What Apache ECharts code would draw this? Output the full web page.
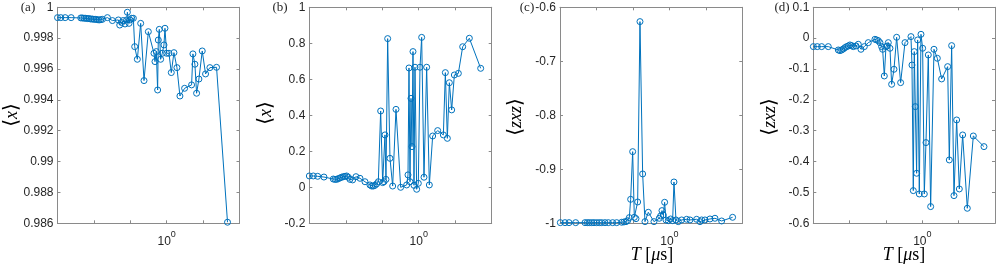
<!DOCTYPE html>
<html><head><meta charset="utf-8">
<script src="https://cdn.jsdelivr.net/npm/echarts@6/dist/echarts.min.js"></script>
<style>html,body{margin:0;padding:0;background:#fff}#c{width:997px;height:268px}</style>
</head><body><div id="c"></div>
<script>
// Panel (a): <x>
const T_A = [0.126,0.134,0.1456,0.1631,0.196,0.202,0.2087,0.2153,0.2222,0.2293,0.2366,0.2443,0.2521,0.2602,0.2685,0.2772,0.286,0.2953,0.3246,0.3568,0.3996,0.4101,0.4258,0.4367,0.4535,0.4681,0.4741,0.4893,0.4986,0.5146,0.5311,0.5448,0.5728,0.6103,0.65,0.7057,0.7855,0.8006,0.8209,0.8418,0.8525,0.8688,0.8913,0.9199,0.9493,0.9674,0.9985,1.0437,1.0909,1.1474,1.2145,1.2855,1.4046,1.6037,1.6444,1.7078,1.7631,1.8427,1.9628,2.0905,2.2698,2.575,3.171];
const X_A = [0.99933,0.99933,0.99933,0.99933,0.99931,0.99931,0.99929,0.99929,0.99927,0.99927,0.99924,0.99924,0.99922,0.99922,0.9992,0.99918,0.9992,0.99922,0.99933,0.99914,0.99918,0.99885,0.99901,0.99914,0.99892,0.99918,0.99968,0.99896,0.99918,0.99929,0.99929,0.99745,0.99663,0.99896,0.99525,0.99842,0.99702,0.99648,0.99713,0.99464,0.99788,0.99857,0.99663,0.99702,0.99756,0.99864,0.99702,0.99702,0.99577,0.99706,0.99609,0.99425,0.99475,0.99497,0.99698,0.99631,0.99443,0.99535,0.99717,0.99568,0.99609,0.99611,0.98607];
// Panel (b): <x>
const T_B = [0.126,0.1358,0.1474,0.1662,0.1983,0.2047,0.2113,0.2181,0.2251,0.2323,0.2397,0.2474,0.2553,0.2635,0.2719,0.286,0.3047,0.3287,0.3613,0.3972,0.4101,0.4231,0.4367,0.4506,0.4652,0.4862,0.5049,0.5178,0.5277,0.5378,0.5552,0.5801,0.6103,0.65,0.7102,0.7955,0.8159,0.8314,0.8473,0.8635,0.88,0.8968,0.9141,0.9316,0.9614,0.9922,1.024,1.0568,1.1046,1.1619,1.2222,1.3018,1.4311,1.5937,1.6552,1.719,1.7853,1.8655,1.9628,2.1171,2.2977,2.6077,3.2314];
const X_B = [0.063,0.063,0.061,0.057,0.046,0.044,0.044,0.048,0.052,0.056,0.059,0.061,0.063,0.056,0.044,0.041,0.059,0.05,0.031,0.013,0.007,0.007,0.011,0.019,0.031,0.424,0.026,0.031,0.291,0.044,0.826,0.161,0.007,0.433,0.0,0.013,0.069,0.663,0.031,0.494,0.226,0.754,0.011,0.667,-0.011,0.022,0.667,0.833,0.056,0.667,0.013,0.285,0.315,0.291,0.637,0.272,0.581,0.43,0.624,0.633,0.781,0.828,0.661];
// Panel (c): <zxz>
const T_C = [0.1267,0.1384,0.1493,0.1694,0.2021,0.2113,0.2194,0.2293,0.2397,0.2521,0.2651,0.2772,0.2953,0.3145,0.3413,0.3683,0.4049,0.4231,0.4395,0.4535,0.4681,0.4801,0.4987,0.5147,0.5311,0.5482,0.5729,0.6026,0.6298,0.6708,0.7467,0.8261,0.8473,0.869,0.8913,0.9141,0.9374,0.9797,1.024,1.0636,1.0909,1.1329,1.184,1.2612,1.3868,1.477,1.6755,1.7853,1.8425,1.9628,2.1576,2.3714,2.6915,3.3139];
const ZXZ_C = [-0.9988,-0.9988,-0.9988,-0.9988,-0.9988,-0.9988,-0.9988,-0.9988,-0.9988,-0.9988,-0.9988,-0.9988,-0.9988,-0.9988,-0.9988,-0.9988,-0.9981,-0.9975,-0.9969,-0.9951,-0.9895,-0.9556,-0.8673,-0.9889,-0.9914,-0.9605,-0.6265,-0.9086,-0.9969,-0.9796,-0.9969,-0.9907,-0.9864,-0.9765,-0.9846,-0.9611,-0.9938,-0.9951,-0.992,-0.9951,-0.9235,-0.9938,-0.9969,-0.9938,-0.9926,-0.9938,-0.9926,-0.9969,-0.9938,-0.9938,-0.992,-0.9907,-0.9957,-0.9889];
// Panel (d): <zxz>
const T_D = [0.126,0.1358,0.1475,0.1674,0.2025,0.209,0.2158,0.2227,0.2299,0.2372,0.2449,0.2527,0.2609,0.2693,0.2833,0.2961,0.3115,0.332,0.3581,0.4064,0.4195,0.4331,0.447,0.4614,0.4703,0.4855,0.5011,0.514,0.5238,0.5407,0.5581,0.5834,0.6137,0.6622,0.7192,0.8059,0.8214,0.8425,0.8585,0.8751,0.8976,0.9149,0.9443,0.9748,1.0062,1.0385,1.072,1.1206,1.1714,1.2482,1.3298,1.4437,1.6184,1.6704,1.7463,1.8253,1.9205,2.0204,2.1526,2.3519,2.6363,3.2285];
const ZXZ_D = [-0.0274,-0.0274,-0.0274,-0.0274,-0.0383,-0.0404,-0.0383,-0.035,-0.0307,-0.0274,-0.0253,-0.022,-0.0242,-0.0274,-0.0253,-0.0199,-0.0361,-0.0274,-0.0145,-0.0037,-0.0058,-0.008,-0.0145,-0.0274,-0.0361,-0.1225,-0.0274,-0.0253,-0.0145,-0.0328,-0.1495,-0.1009,0.0028,-0.1441,-0.0145,0.005,-0.0871,-0.4941,-0.0436,-0.2219,-0.4379,-0.0058,-0.5049,0.0125,-0.0328,-0.5049,-0.3385,-0.0544,-0.5459,-0.0361,-0.0652,-0.1322,-0.0923,-0.3947,-0.0242,-0.5103,-0.2651,-0.4887,-0.3137,-0.5513,-0.317,-0.3515];

// x axis: log10(T) from -0.9 to 0.6, ticks every 0.3; only 10^0 labelled
const X_LOG_MIN = -0.9, X_LOG_MAX = 0.6, X_LOG_STEP = 0.3;
const Y_RANGES = [[0.986, 1, 0.002], [-0.2, 1, 0.2], [-1, -0.6, 0.1], [-0.6, 0.1, 0.1]];
const PANEL_LABELS = ['(a)', '(b)', '(c)', '(d)'];

const series_T = [T_A, T_B, T_C, T_D];
const series_Y = [X_A, X_B, ZXZ_C, ZXZ_D];

const lefts = [57.5, 309.3, 560, 813.3];
const widths = [182, 182.4, 182.3, 181.7];
const AX = '#8a8a8a', TXT = '#262626', BLUE = '#0072BD';
const SANS = 'Liberation Sans, Arial, sans-serif';
const SERIF = 'Liberation Serif, DejaVu Serif, serif';

const grids = [], xAxes = [], yAxes = [], series = [];
for (let p = 0; p < 4; p++) {
  grids.push({left: lefts[p], top: 7.3, width: widths[p], height: 216, outerBoundsMode: 'none', containLabel: false});
  const xBase = {gridIndex: p, type: 'value', min: X_LOG_MIN, max: X_LOG_MAX, interval: X_LOG_STEP,
    axisLine: {show: true, onZero: false, lineStyle: {color: AX, width: 1}},
    axisTick: {show: true, inside: true, length: 3, lineStyle: {color: AX}},
    splitLine: {show: false}};
  xAxes.push(Object.assign({}, xBase, {position: 'bottom',
    axisLabel: {show: true, margin: 7, color: TXT, fontFamily: SANS, showMinLabel: true, showMaxLabel: true,
      formatter: v => Math.abs(v) < 1e-9 ? '{b|10}{s|0}' : '',
      rich: {b: {fontSize: 12, fontFamily: SANS, color: TXT, lineHeight: 17, verticalAlign: 'bottom'},
             s: {fontSize: 9, fontFamily: SANS, color: TXT, lineHeight: 9, verticalAlign: 'top'}}}}));
  xAxes.push(Object.assign({}, xBase, {position: 'top', axisLabel: {show: false}}));
  const [ymin, ymax, yint] = Y_RANGES[p];
  const yBase = {gridIndex: p, type: 'value', min: ymin, max: ymax, interval: yint,
    axisLine: {show: true, onZero: false, lineStyle: {color: AX, width: 1}},
    axisTick: {show: true, inside: true, length: 3, lineStyle: {color: AX}},
    splitLine: {show: false}};
  yAxes.push(Object.assign({}, yBase, {position: 'left',
    axisLabel: {show: true, margin: 4, color: TXT, fontSize: 12, fontFamily: SANS,
      formatter: v => String(parseFloat(v.toFixed(4)))}}));
  yAxes.push(Object.assign({}, yBase, {position: 'right', axisLabel: {show: false}}));
  series.push({type: 'line', xAxisIndex: 2 * p, yAxisIndex: 2 * p, clip: false,
    data: series_T[p].map((t, i) => [Math.log10(t), series_Y[p][i]]),
    symbol: 'circle', symbolSize: 6,
    itemStyle: {color: 'rgba(0,0,0,0)', borderColor: BLUE, borderWidth: 1},
    lineStyle: {color: BLUE, width: 1}, emphasis: {disabled: true}});
}

const richBr = {n: {fontFamily: 'DejaVu Serif, serif', fontSize: 20, color: TXT},
                i: {fontFamily: SERIF, fontStyle: 'italic', fontSize: 18, color: TXT}};
const yTitles = [
  {x: 12, y: 115, t: '{n|⟨}{i|x}{n|⟩}'},
  {x: 266, y: 113, t: '{n|⟨}{i|x}{n|⟩}'},
  {x: 516, y: 117, t: '{n|⟨}{i|zxz}{n|⟩}'},
  {x: 770, y: 117, t: '{n|⟨}{i|zxz}{n|⟩}'}
];
const graphic = [];
yTitles.forEach(o => graphic.push({type: 'text', x: o.x, y: o.y, rotation: Math.PI / 2,
  style: {text: o.t, rich: richBr, align: 'center', verticalAlign: 'middle'}}));
const labelPos = [[28, 8], [280, 8], [527, 8], [782, 8]];
PANEL_LABELS.forEach((s, k) => graphic.push({type: 'text', x: labelPos[k][0], y: labelPos[k][1],
  style: {text: s, font: '13px ' + SERIF, fill: TXT, align: 'center', verticalAlign: 'middle'}}));
const xTitleRich = {i: {fontFamily: SERIF, fontStyle: 'italic', fontSize: 18, color: TXT},
                    r: {fontFamily: SERIF, fontSize: 18, color: TXT}};
[652, 904].forEach(x => graphic.push({type: 'text', x: x, y: 255,
  style: {text: '{i|T}{r| [}{i|μ}{r|s]}', rich: xTitleRich, align: 'center', verticalAlign: 'middle'}}));

const chart = echarts.init(document.getElementById('c'), null, {renderer: 'canvas'});
chart.setOption({animation: false, backgroundColor: '#fff', grid: grids, xAxis: xAxes, yAxis: yAxes, series: series, graphic: graphic});
</script></body></html>
